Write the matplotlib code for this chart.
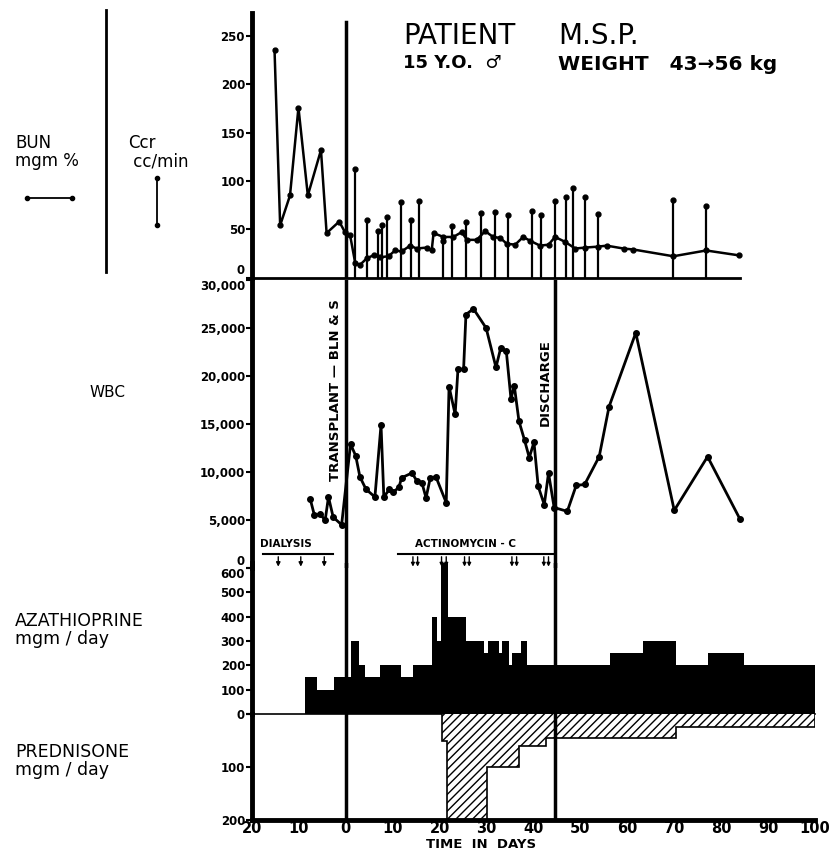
import matplotlib
matplotlib.use("Agg")
import matplotlib.pyplot as plt
from matplotlib.lines import Line2D

# ---- data (days relative to transplant) ----
bun_day = [-15.2, -14.0, -11.9, -10.1, -8.1, -5.3, -4.1, -1.4, -0.2, 0.9, 2.0, 3.0, 4.5, 5.9,
           7.3, 9.1, 10.5, 11.9, 13.7, 15.1, 17.2, 18.3, 18.7, 20.8, 22.9, 24.7, 25.8, 27.9,
           29.7, 31.4, 32.9, 34.3, 36.1, 37.8, 39.3, 41.4, 43.2, 44.6, 46.7, 48.9, 51.0, 53.8,
           55.6, 59.2, 61.3, 69.8, 76.8, 83.7]
bun_val = [236, 54, 85, 176, 85, 132, 46, 58, 47, 44, 15, 13, 20, 23,
           21, 22, 28, 27, 33, 30, 31, 28, 46, 42, 42, 47, 39, 39,
           48, 42, 41, 35, 34, 42, 38, 33, 34, 42, 37, 30, 31, 32,
           33, 30, 29, 22, 28, 23]

ccr_day = [2.0, 4.6, 6.8, 7.8, 8.8, 11.8, 13.8, 15.7, 20.8, 22.7, 25.6, 28.8, 31.7, 34.6,
           39.6, 41.6, 44.6, 46.9, 48.5, 50.9, 53.8, 69.7, 76.7]
ccr_val = [112, 60, 48, 54, 63, 78, 60, 79, 38, 53, 58, 67, 68, 65,
           69, 65, 79, 83, 93, 83, 66, 80, 74]

wbc_day = [-7.6, -6.7, -5.5, -4.4, -3.7, -2.7, -0.9, 1.0, 2.1, 3.0, 4.3, 6.2, 7.5, 8.1, 9.3,
           10.1, 11.3, 11.9, 14.1, 15.1, 16.2, 17.1, 18.0, 19.2, 21.4, 22.0, 23.3, 23.9, 25.1,
           25.6, 27.2, 29.9, 32.0, 33.0, 34.2, 35.2, 35.9, 36.9, 38.1, 39.1, 40.1, 41.0, 42.3,
           43.2, 44.4, 47.2, 49.1, 50.9, 54.0, 56.1, 61.8, 70.0, 77.1, 84.0]
wbc_val = [7200, 5500, 5600, 5000, 7400, 5300, 4500, 12900, 11700, 9500, 8200, 7400, 14900, 7400, 8200,
           7900, 8400, 9400, 9900, 9100, 8900, 7300, 9400, 9500, 6800, 18900, 16000, 20700, 20700,
           26400, 27000, 25000, 20900, 22900, 22600, 17600, 19000, 15300, 13300, 11500, 13100, 8500, 6600,
           9900, 6300, 5900, 8600, 8700, 11600, 16800, 24500, 6000, 11600, 5100]

aza_edges = [-8.7, -6.2, -2.5, 1.2, 2.7, 4.0, 7.3, 11.7, 14.4, 18.3, 19.5, 20.2, 21.7, 25.6,
             29.5, 30.3, 32.7, 33.2, 34.7, 35.4, 37.4, 38.6, 56.3, 63.3, 70.4, 77.3, 84.8, 100]
aza_vals = [150, 100, 150, 300, 200, 150, 200, 150, 200, 400, 300, 620, 400, 300,
            250, 300, 250, 300, 200, 250, 300, 200, 250, 300, 200, 250, 200]

pred_edges = [20.6, 21.6, 30.0, 37.0, 42.6, 70.3, 100]
pred_vals = [50, 200, 100, 60, 45, 25]

transplant_day = 0
discharge_day = 44.6
dialysis_span = (-17.7, -2.8)
dialysis_days = [-14.4, -9.6, -4.6]
actino_span = (11.2, 44.6)
actino_days = [14.8, 20.9, 25.8, 35.9, 42.7]

bun_ticks = [0, 50, 100, 150, 200, 250]
wbc_ticks = [0, 5000, 10000, 15000, 20000, 25000, 30000]
aza_ticks = [0, 100, 200, 300, 400, 500, 600]
pred_ticks = [0, 100, 200]
day_ticks = list(range(-20, 101, 10))

plt.rcParams['font.family'] = ['DejaVu Sans']
plt.rcParams['font.weight'] = 'bold'
plt.rcParams['hatch.linewidth'] = 1.0

W, H = 837, 852
fig = plt.figure(figsize=(W / 100, H / 100), dpi=100)


def fx(px):
    return px / W


def fy(py):
    return 1 - py / H


X0, X1 = 252, 815


def add_ax(top, bottom):
    a = fig.add_axes([fx(X0), fy(bottom), fx(X1) - fx(X0), fy(top) - fy(bottom)])
    a.patch.set_visible(False)
    a.set_xlim(-20, 100)
    for s in ['top', 'right', 'bottom']:
        a.spines[s].set_visible(False)
    a.spines['left'].set_linewidth(3.5)
    a.tick_params(axis='y', direction='out', length=4, width=1.5, labelsize=8.5, pad=1)
    a.set_xticks([])
    return a


ax_bun = add_ax(13, 277.5)
ax_wbc = add_ax(280, 568)
ax_aza = add_ax(563, 714)
ax_pred = add_ax(714, 820)

# --- BUN / Ccr ---
ax_bun.set_ylim(0, 274)
ax_bun.set_yticks(bun_ticks)
ax_bun.get_yticklabels()[0].set_va('bottom')
ax_bun.spines['bottom'].set_visible(True)
ax_bun.spines['bottom'].set_linewidth(2)
ax_bun.spines['bottom'].set_bounds(-20, 84)
ax_bun.vlines(ccr_day, 0, ccr_val, color='k', lw=1.6)
ax_bun.plot(ccr_day, ccr_val, 'o', color='k', ms=3.5)
ax_bun.plot(bun_day, bun_val, '-o', color='k', lw=1.8, ms=3.5)
ax_bun.axvline(transplant_day, ymin=0, ymax=0.966, color='k', lw=2.5)

# --- WBC ---
ax_wbc.set_ylim(0, 30000)
ax_wbc.set_yticks(wbc_ticks)
ax_wbc.set_yticklabels([f'{v:,}' for v in wbc_ticks])
ax_wbc.get_yticklabels()[0].set_va('bottom')
ax_wbc.get_yticklabels()[-1].set_va('top')
ax_wbc.plot(wbc_day, wbc_val, '-o', color='k', lw=2, ms=4)
ax_wbc.axvline(transplant_day, color='k', lw=2.5)
ax_wbc.axvline(discharge_day, color='k', lw=2.5)
ax_wbc.text(-2.1, 18500, 'TRANSPLANT — BLN & S', rotation=90, ha='center', va='center', fontsize=9.5)
ax_wbc.text(42.4, 19300, 'DISCHARGE', rotation=90, ha='center', va='center', fontsize=9.5)

# dialysis / actinomycin markers
ax_wbc.plot(dialysis_span, [1460, 1460], color='k', lw=1.5)
ax_wbc.text(-18.3, 2450, 'DIALYSIS', ha='left', va='center', fontsize=7.5)
for d in dialysis_days:
    ax_wbc.annotate('', xy=(d, -150), xytext=(d, 1460), annotation_clip=False,
                    arrowprops=dict(arrowstyle='-|>', lw=1, color='k', mutation_scale=6))
ax_wbc.plot(actino_span, [1460, 1460], color='k', lw=1.5)
ax_wbc.text(25.4, 2450, 'ACTINOMYCIN - C', ha='center', va='center', fontsize=7.5)
for d in actino_days:
    for off in (-0.5, 0.5):
        ax_wbc.annotate('', xy=(d + off, -150), xytext=(d + off, 1460), annotation_clip=False,
                        arrowprops=dict(arrowstyle='-|>', lw=1, color='k', mutation_scale=5))

# --- Azathioprine ---
ax_aza.set_ylim(0, 620)
ax_aza.set_yticks(aza_ticks)
ax_aza.get_yticklabels()[-1].set_va('top')
ax_aza.spines['bottom'].set_visible(True)
ax_aza.spines['bottom'].set_linewidth(1.2)
ax_aza.stairs(aza_vals, aza_edges, fill=True, color='k', baseline=0)
ax_aza.axvline(transplant_day, color='k', lw=2.5)
ax_aza.axvline(discharge_day, color='k', lw=2.5)

# --- Prednisone (downward) ---
ax_pred.set_ylim(200, 0)
ax_pred.set_yticks(pred_ticks)
ax_pred.set_yticklabels([''] + [str(t) for t in pred_ticks[1:]])
ax_pred.stairs(pred_vals, pred_edges, fill=True, facecolor='white', edgecolor='k',
               hatch='////', lw=1.2, baseline=0)
ax_pred.axvline(transplant_day, color='k', lw=2.5)
ax_pred.axvline(discharge_day, color='k', lw=2.5)
ax_pred.spines['bottom'].set_visible(True)
ax_pred.spines['bottom'].set_linewidth(3.5)
ax_pred.set_xticks(day_ticks)
ax_pred.set_xticklabels([str(abs(t)) for t in day_ticks])
ax_pred.tick_params(axis='x', length=0, labelsize=10.5, pad=1)
fig.text(fx(481), fy(845), 'TIME  IN  DAYS', ha='center', va='center', fontsize=9.5)

# --- title ---
fig.text(fx(403), fy(36), 'PATIENT', fontsize=20, fontweight='normal', va='center', ha='left')
fig.text(fx(558), fy(36), 'M.S.P.', fontsize=20, fontweight='normal', va='center', ha='left')
fig.text(fx(403), fy(63), '15 Y.O.  ♂', fontsize=13, va='center', ha='left')
fig.text(fx(558), fy(64), 'WEIGHT   43→56 kg', fontsize=14.5, va='center', ha='left')

# --- left side labels ---
fig.text(fx(15), fy(152), 'BUN\nmgm %', fontsize=12, fontweight='normal', va='center', ha='left',
         linespacing=1.05)
fig.text(fx(128), fy(152), 'Ccr\n cc/min', fontsize=12, fontweight='normal', va='center', ha='left',
         linespacing=1.05)
fig.add_artist(Line2D([fx(106), fx(106)], [fy(10), fy(272)], color='k', lw=2))
fig.add_artist(Line2D([fx(27), fx(72)], [fy(198), fy(198)], color='k', lw=1.3, marker='o', ms=3))
fig.add_artist(Line2D([fx(157), fx(157)], [fy(178), fy(225)], color='k', lw=1.3, marker='o', ms=3))
fig.text(fx(90), fy(393), 'WBC', fontsize=11, fontweight='normal', va='center', ha='left')
fig.text(fx(15), fy(630), 'AZATHIOPRINE\nmgm / day', fontsize=12.5, fontweight='normal',
         va='center', ha='left', linespacing=1.05)
fig.text(fx(15), fy(761), 'PREDNISONE\nmgm / day', fontsize=12.5, fontweight='normal',
         va='center', ha='left', linespacing=1.05)

fig.savefig('out.png', dpi=100)
